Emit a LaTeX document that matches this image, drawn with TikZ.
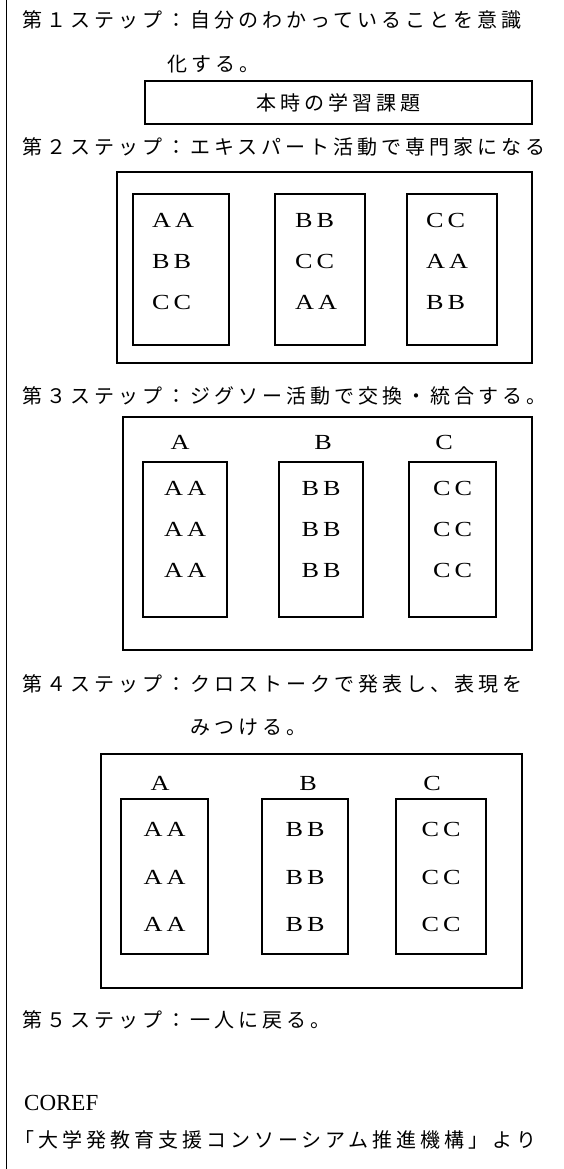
\documentclass[tikz,border=0pt]{standalone}
\usepackage{fontspec}
\usepackage{graphicx}
\setmainfont{Liberation Serif}
\newfontfamily\jpfont[LetterSpace=20]{Noto Sans CJK JP}
\newcommand\wl[1]{\scalebox{1.22}[1]{#1}}
\newcommand\dbl[1]{\wl{#1}\hspace{4pt}\wl{#1}}
\begin{document}
\begin{tikzpicture}[x=1pt,y=-1pt,
  jp/.style={font=\jpfont\fontsize{20pt}{22pt}\selectfont, anchor=west, inner sep=0pt},
  lt/.style={font=\fontsize{21.5pt}{23pt}\selectfont, inner sep=0pt},
  ltw/.style={lt, anchor=west},
  frame/.style={draw, line width=1.5pt, inner sep=0pt}]
\useasboundingbox (0,0) rectangle (564,1169);
% left rule
\coordinate (ltop) at (6.5,0);
\coordinate (lbot) at (6.5,1169);
\draw[line width=1.3pt] (ltop) -- (lbot);
% step 1
\node[jp] (l1) at (22,20) {第１ステップ：自分のわかっていることを意識};
\node[jp] (l1b) at (167,64) {化する。};
\node[frame, minimum width=387pt, minimum height=43pt, font=\jpfont\fontsize{20pt}{22pt}\selectfont] (task) at (338.5,102.5) {本時の学習課題};
% step 2
\node[jp] (l2) at (22,147) {第２ステップ：エキスパート活動で専門家になる};
\node[frame, minimum width=415pt, minimum height=191pt] (s2) at (324.5,267.5) {};
\node[frame, minimum width=96pt, minimum height=151pt] (s2a) at (181,269.5) {};
\node[frame, minimum width=90pt, minimum height=151pt] (s2b) at (320,269.5) {};
\node[frame, minimum width=90pt, minimum height=151pt] (s2c) at (452,269.5) {};
\node[ltw] (s2a1) at (152,220) {\dbl{A}};
\node[ltw] (s2a2) at (152,261) {\dbl{B}};
\node[ltw] (s2a3) at (152,302) {\dbl{C}};
\node[ltw] (s2b1) at (295,220) {\dbl{B}};
\node[ltw] (s2b2) at (295,261) {\dbl{C}};
\node[ltw] (s2b3) at (295,302) {\dbl{A}};
\node[ltw] (s2c1) at (426,220) {\dbl{C}};
\node[ltw] (s2c2) at (426,261) {\dbl{A}};
\node[ltw] (s2c3) at (426,302) {\dbl{B}};
% step 3
\node[jp] (l3) at (22,396) {第３ステップ：ジグソー活動で交換・統合する。};
\node[frame, minimum width=409pt, minimum height=233pt] (s3) at (327.5,533.5) {};
\node[lt] (s3la) at (180,442) {\wl{A}};
\node[lt] (s3lb) at (323,442) {\wl{B}};
\node[lt] (s3lc) at (444,442) {\wl{C}};
\node[frame, minimum width=84pt, minimum height=155pt] (s3a) at (185,539.5) {};
\node[frame, minimum width=84pt, minimum height=155pt] (s3b) at (321,539.5) {};
\node[frame, minimum width=87pt, minimum height=155pt] (s3c) at (452.5,539.5) {};
\foreach \yy/\k in {488/1,529/2,570/3}{
  \node[lt] (s3a\k) at (185,\yy) {\dbl{A}};
  \node[lt] (s3b\k) at (321,\yy) {\dbl{B}};
  \node[lt] (s3c\k) at (452.5,\yy) {\dbl{C}};
}
% step 4
\node[jp] (l4) at (22,684) {第４ステップ：クロストークで発表し、表現を};
\node[jp] (l4b) at (190,727) {みつける。};
\node[frame, minimum width=421pt, minimum height=234pt] (s4) at (311.5,871) {};
\node[lt] (s4la) at (160,783) {\wl{A}};
\node[lt] (s4lb) at (308,783) {\wl{B}};
\node[lt] (s4lc) at (432,783) {\wl{C}};
\node[frame, minimum width=87pt, minimum height=155pt] (s4a) at (164.5,876.5) {};
\node[frame, minimum width=86pt, minimum height=155pt] (s4b) at (305,876.5) {};
\node[frame, minimum width=90pt, minimum height=155pt] (s4c) at (441,876.5) {};
\foreach \yy/\k in {829/1,877/2,924/3}{
  \node[lt] (s4a\k) at (164.5,\yy) {\dbl{A}};
  \node[lt] (s4b\k) at (305,\yy) {\dbl{B}};
  \node[lt] (s4c\k) at (441,\yy) {\dbl{C}};
}
% step 5
\node[jp] (l5) at (22,1020) {第５ステップ：一人に戻る。};
\node[ltw, font=\fontsize{23pt}{25pt}\selectfont] (coref) at (24,1103) {COREF};
\node[jp] (src) at (14,1140) {「大学発教育支援コンソーシアム推進機構」より};
\end{tikzpicture}
\end{document}
